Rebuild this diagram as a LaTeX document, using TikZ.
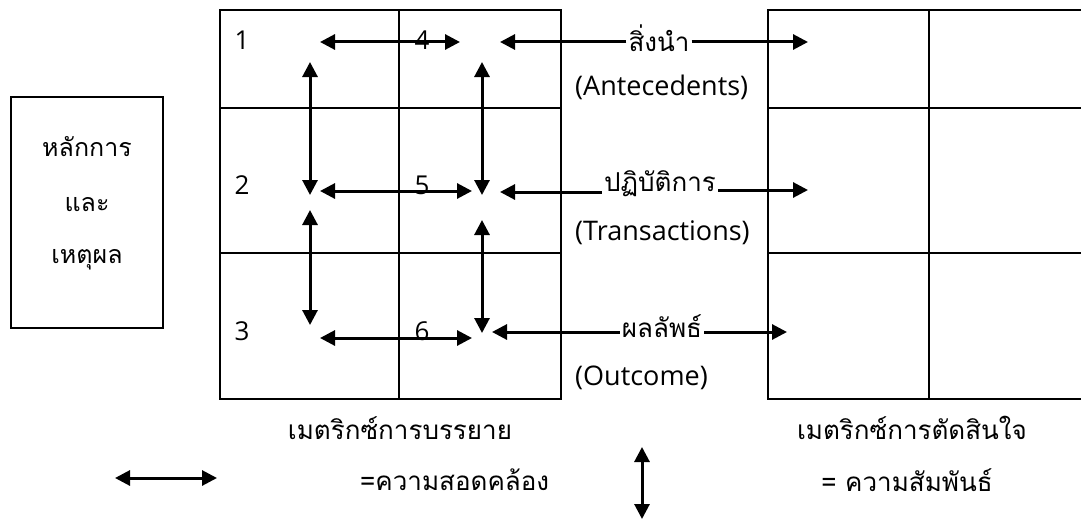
\documentclass[tikz,border=0pt]{standalone}
\usepackage{fontspec}
\setmainfont{Open Sans}
\newfontfamily\thai[Script=Thai]{Loma}
\usetikzlibrary{arrows.meta}
\tikzset{
  grid/.style={line width=2.8pt},
  arr/.style={line width=3pt,-{Triangle[length=15pt,width=15pt]}},
  darr/.style={line width=3pt,{Triangle[length=15pt,width=15pt]}-{Triangle[length=15pt,width=15pt]}},
  num/.style={font=\fontsize{26}{26}\selectfont,inner sep=0pt},
  lab/.style={font=\fontsize{27}{27}\selectfont,inner sep=0pt},
  th/.style={font=\thai\fontsize{26}{26}\selectfont,inner sep=2pt},
  boxt/.style={font=\thai\fontsize{25}{25}\selectfont,inner sep=0pt}
}
\begin{document}
\begin{tikzpicture}[x=1pt,y=-1pt]
\useasboundingbox (0,0) rectangle (1081,519);
% left box
\node[draw,line width=2.2pt,minimum width=152pt,minimum height=231pt,inner sep=0pt] (box) at (87,212.5) {};
\node[boxt] (b1) at (87,147) {หลักการ};
\node[boxt] (b2) at (87,205) {และ};
\node[boxt] (b3) at (87,260) {เหตุผล};
% left grid
\draw[grid] (220,10) rectangle (561,399);
\draw[grid] (399,10) -- (399,399);
\draw[grid] (220,108) -- (561,108);
\draw[grid] (220,253) -- (561,253);
% right grid
\draw[grid] (1083,10) -- (768,10) -- (768,399) -- (1083,399);
\draw[grid] (929,10) -- (929,399);
\draw[grid] (768,108) -- (1083,108);
\draw[grid] (768,253) -- (1083,253);
% numbers
\node[num] (n1) at (242,40) {1};
\node[num] (n4) at (422,40) {4};
\node[num] (n2) at (242,185) {2};
\node[num] (n5) at (422,185) {5};
\node[num] (n3) at (242,331) {3};
\node[num] (n6) at (422,331) {6};
% coordinates
\coordinate (h1a) at (320,42); \coordinate (h1b) at (460,42);
\coordinate (h2a) at (320,191); \coordinate (h2b) at (472,191);
\coordinate (h3a) at (320,338); \coordinate (h3b) at (472,338);
\coordinate (v1a) at (310,62); \coordinate (v1b) at (310,195);
\coordinate (v2a) at (482,62); \coordinate (v2b) at (482,195);
\coordinate (v3a) at (310,210); \coordinate (v3b) at (310,325);
\coordinate (v4a) at (482,220); \coordinate (v4b) at (482,333);
\coordinate (l1) at (500,42); \coordinate (r1) at (808,42);
\coordinate (l2) at (500,192); \coordinate (r2) at (808,190);
\coordinate (l3) at (492,332); \coordinate (r3) at (787,332);
\draw[darr] (h1a) -- (h1b);
\draw[darr] (h2a) -- (h2b);
\draw[darr] (h3a) -- (h3b);
\draw[darr] (v1a) -- (v1b);
\draw[darr] (v2a) -- (v2b);
\draw[darr] (v3a) -- (v3b);
\draw[darr] (v4a) -- (v4b);
% middle labels
\node[th] (s1) at (659,38) {สิ่งนำ};
\node[th] (s2) at (660,184) {ปฏิบัติการ};
\node[th] (s3) at (662,326) {ผลลัพธ์};
\node[lab,anchor=west] (e1) at (575,87) {(Antecedents)};
\node[lab,anchor=west] (e2) at (575,233) {(Transactions)};
\node[lab,anchor=west] (e3) at (575,378) {(Outcome)};
\draw[arr] (s1.west |- l1) -- (l1);
\draw[arr] (s1.east |- r1) -- (r1);
\draw[arr] (s2.west |- l2) -- (l2);
\draw[arr] (s2.east |- r2) -- (r2);
\draw[arr] (s3.west |- l3) -- (l3);
\draw[arr] (s3.east |- r3) -- (r3);
% bottom
\node[th] (m1) at (400,428) {เมตริกซ์การบรรยาย};
\node[th] (m2) at (912,428) {เมตริกซ์การตัดสินใจ};
\node[th,anchor=west] (c1) at (358,480) {=ความสอดคล้อง};
\node[th] (c2) at (907,480) {= ความสัมพันธ์};
\coordinate (la) at (115,478); \coordinate (lb) at (217,478);
\coordinate (ua) at (642,447); \coordinate (ub) at (642,519);
\draw[darr] (la) -- (lb);
\draw[darr] (ua) -- (ub);
\end{tikzpicture}
\end{document}
